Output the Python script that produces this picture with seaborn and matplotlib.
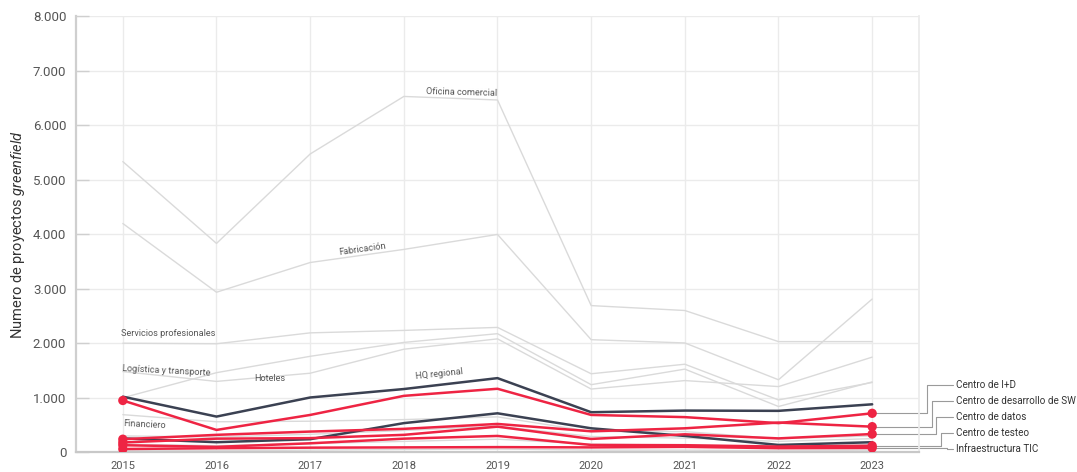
import pandas as pd
import numpy as np
import matplotlib.pyplot as plt
import seaborn as sns

# %% data
years = [2015, 2016, 2017, 2018, 2019, 2020, 2021, 2022, 2023]

# background sectors (light grey)
oficina_comercial = [5330, 3830, 5470, 6525, 6460, 2690, 2600, 2030, 2030]
fabricacion = [4195, 2935, 3480, 3720, 3995, 2065, 2005, 1330, 2810]
servicios_prof = [2000, 1990, 2190, 2235, 2290, 1440, 1615, 960, 1280]
hoteles = [1000, 1460, 1760, 2015, 2175, 1240, 1525, 840, 1290]
logistica = [1480, 1300, 1450, 1890, 2080, 1160, 1315, 1205, 1745]
financiero = [690, 560, 570, 600, 650, 380, 380, 250, 300]
otros_1 = [300, 280, 330, 400, 480, 290, 260, 200, 250]
otros_2 = [150, 120, 160, 200, 240, 150, 130, 110, 140]
otros_3 = [40, 30, 40, 50, 60, 40, 40, 30, 40]

# dark sectors
hq_regional = [1020, 655, 1005, 1160, 1360, 735, 765, 760, 880]
dark_2 = [255, 185, 240, 535, 715, 440, 300, 135, 185]

# highlighted sectors (red)
centro_id = [950, 410, 685, 1035, 1165, 685, 645, 535, 715]
centro_sw = [240, 320, 380, 430, 520, 385, 440, 545, 470]
centro_datos = [180, 250, 260, 320, 470, 245, 330, 255, 335]
centro_testeo = [130, 100, 165, 250, 300, 135, 130, 105, 120]
infra_tic = [60, 75, 85, 90, 95, 90, 100, 75, 80]

grey = {
    'Oficina comercial': oficina_comercial, 'Fabricación': fabricacion,
    'Servicios profesionales': servicios_prof, 'Hoteles': hoteles,
    'Logística y transporte': logistica, 'Financiero': financiero,
    'Otros 1': otros_1, 'Otros 2': otros_2, 'Otros 3': otros_3,
}
dark = {'HQ regional': hq_regional, 'Otro': dark_2}
red = {
    'Centro de I+D': centro_id, 'Centro de desarrollo de SW': centro_sw,
    'Centro de datos': centro_datos, 'Centro de testeo': centro_testeo,
    'Infraestructura TIC': infra_tic,
}


def to_long(d):
    return pd.DataFrame([(k, y, v) for k, vals in d.items() for y, v in zip(years, vals)],
                        columns=['sector', 'year', 'value'])


df_grey, df_dark, df_red = to_long(grey), to_long(dark), to_long(red)

# %% style
sns.set_theme(style='whitegrid')
plt.rcParams['font.family'] = ['Roboto', 'DejaVu Sans']
plt.rcParams['mathtext.fontset'] = 'custom'
plt.rcParams['mathtext.it'] = 'Roboto:italic'
plt.rcParams['mathtext.rm'] = 'Roboto'

RED = '#ee2443'
NAVY = '#3b4152'
LGREY = '#dadada'

fig = plt.figure(figsize=(10.77, 4.72), dpi=100)
ax = fig.add_axes([76 / 1077, 19.7 / 472, 843 / 1077, 436.3 / 472])

sns.lineplot(data=df_grey, x='year', y='value', hue='sector',
             palette={k: LGREY for k in grey}, linewidth=1.0, legend=False, ax=ax, zorder=2)
sns.lineplot(data=df_dark, x='year', y='value', hue='sector',
             palette={k: NAVY for k in dark}, linewidth=1.8, legend=False, ax=ax, zorder=3)
sns.lineplot(data=df_red, x='year', y='value', hue='sector',
             palette={k: RED for k in red}, linewidth=1.8, legend=False, ax=ax, zorder=4)
ends = df_red[df_red['year'].isin([2015, 2023])]
sns.scatterplot(data=ends, x='year', y='value', color=RED, s=45, edgecolor='none',
                legend=False, ax=ax, zorder=5)

ax.set_xlim(2014.5, 2023.5)
ax.set_ylim(0, 8000)
ax.set_xticks(years)
ax.set_yticks(range(0, 8001, 1000))
ax.set_yticklabels([f'{v:,}'.replace(',', '.') for v in range(0, 8001, 1000)])
ax.grid(True, color='#ebebeb', linewidth=1)
ax.tick_params(axis='x', length=0, labelsize=8, colors='#555555', pad=6)
ax.tick_params(axis='y', direction='in', length=9, width=1, color='#cfcfcf',
               labelsize=9.5, labelcolor='#555555', pad=7, left=True)
ax.spines['top'].set_visible(False)
ax.spines['right'].set_color('#ebebeb')
ax.spines['left'].set_color('#cfcfcf')
ax.spines['left'].set_linewidth(1.6)
ax.spines['bottom'].set_color('#c8c8c8')
ax.spines['bottom'].set_linewidth(1.6)
ax.set_xlabel('')
ax.set_ylabel('Numero de proyectos $\\it{greenfield}$', fontsize=10.5, color='#333333', labelpad=4)

# inline labels
lab_kw = dict(fontsize=6.6, color='#555555', zorder=6)
ax.text(2018.62, 6600, 'Oficina comercial', ha='center', va='center', rotation=-1.5, **lab_kw)
ax.text(2017.56, 3730, 'Fabricación', ha='center', va='center', rotation=8, **lab_kw)
ax.text(2014.98, 2180, 'Servicios profesionales', ha='left', va='center', **lab_kw)
ax.text(2014.99, 1500, 'Logística y transporte', ha='left', va='center', rotation=-3, **lab_kw)
ax.text(2016.57, 1345, 'Hoteles', ha='center', va='center', **lab_kw)
ax.text(2018.38, 1440, 'HQ regional', ha='center', va='center', rotation=6, **lab_kw)
ax.text(2015.0, 505, 'Financiero', ha='left', va='center', rotation=-3, **lab_kw)

# right-hand labels with elbow connectors
label_y = [1225, 935, 645, 355, 60]
elbow_x = [2023.59, 2023.64, 2023.68, 2023.74, 2023.80]
for (name, vals), ly, ex in zip(red.items(), label_y, elbow_x):
    v = vals[-1]
    ax.plot([2023, ex, ex, 2023.86], [v, v, ly, ly], color='#9a9a9a', linewidth=0.8,
            clip_on=False, zorder=1)
    ax.text(2023.89, ly, name, ha='left', va='center', fontsize=7.1, color='#333333', clip_on=False)

fig.savefig('out.png', dpi=100)
